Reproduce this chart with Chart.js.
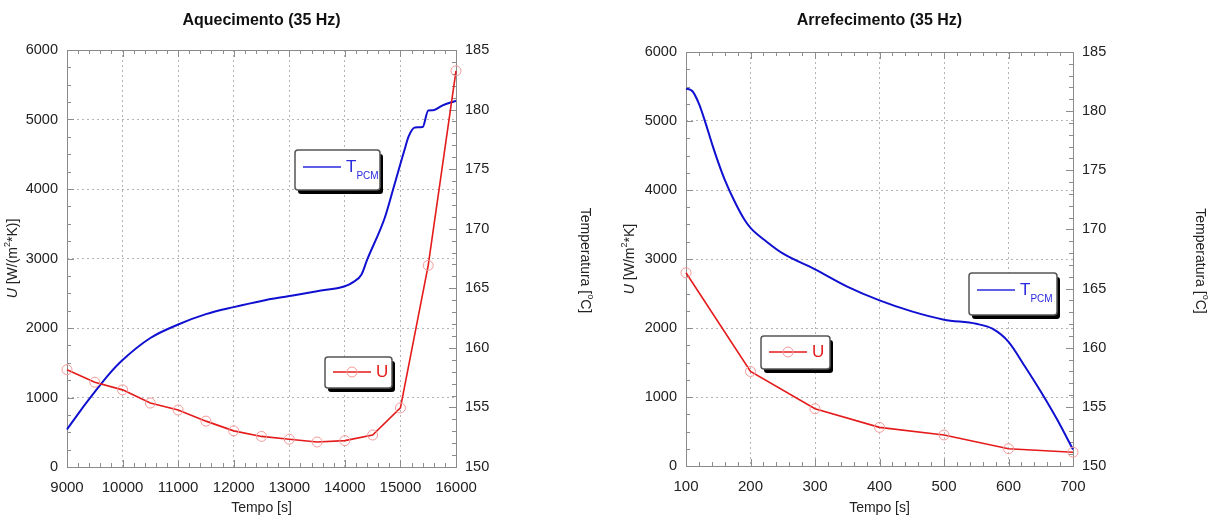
<!DOCTYPE html>
<html>
<head>
<meta charset="utf-8">
<script src="https://cdn.jsdelivr.net/npm/chart.js@4.4.1/dist/chart.umd.min.js"></script>
<style>
  body { margin: 0; background: #fff; }
  #wrap { position: relative; width: 1219px; height: 520px; }
  canvas { position: absolute; top: 0; }
</style>
</head>
<body>
<div id="wrap">
  <canvas id="heat" width="610" height="520" style="left:0"></canvas>
  <canvas id="cool" width="609" height="520" style="left:610px"></canvas>
</div>
<script>
// Aquecimento (heating) - U coefficient every 500 s
var heatTime = [9000, 9500, 10000, 10500, 11000, 11500, 12000, 12500, 13000, 13500, 14000, 14500, 15000, 15500, 16000];
var heatU = [1400, 1220, 1110, 920, 820, 660, 520, 440, 400, 360, 380, 460, 850, 2900, 5700];

// Aquecimento - PCM temperature [°C]
var heatTTime = [9000, 9250, 9500, 9750, 10000, 10500, 11000, 11500, 12000, 12500, 13000, 13500, 14000, 14150, 14300, 14400, 14720, 14870, 15070, 15150, 15260, 15400, 15500, 15590, 15750, 16000];
var heatT = [153.15, 154.78, 156.30, 157.76, 158.98, 160.83, 161.96, 162.83, 163.42, 163.94, 164.35, 164.76, 165.17, 165.52, 166.16, 167.38, 170.94, 173.33, 176.57, 177.77, 178.50, 178.53, 179.93, 179.95, 180.33, 180.74];

// Arrefecimento (cooling) - U coefficient every 100 s
var coolTime = [100, 200, 300, 400, 500, 600, 700];
var coolU = [2800, 1370, 830, 560, 450, 250, 200];

// Arrefecimento - PCM temperature [°C]
var coolTTime = [100, 110, 120, 130, 140, 150, 160, 175, 190, 200, 225, 250, 300, 350, 400, 450, 500, 550, 575, 600, 625, 650, 675, 700];
var coolT = [181.91, 181.68, 180.63, 179.05, 177.30, 175.67, 174.21, 172.40, 170.88, 170.13, 168.96, 167.97, 166.63, 165.17, 164.00, 163.07, 162.37, 162.02, 161.61, 160.50, 158.46, 156.30, 153.97, 151.40];

// axis ticks
var uTicks = [0, 1000, 2000, 3000, 4000, 5000, 6000];
var tTicks = [150, 155, 160, 165, 170, 175, 180, 185];

var FONT = "'Liberation Sans', Arial, sans-serif";
var RED = '#e51a1a';
var BLUE = '#1010d0';

function pts(xs, ys) {
  return xs.map(function (x, i) { return { x: x, y: ys[i] }; });
}

// draws a run of text pieces (with sub/superscripts) centered at 0,0
function drawRich(ctx, parts) {
  var total = 0;
  parts.forEach(function (p) { ctx.font = p.font; p.w = ctx.measureText(p.t).width; total += p.w; });
  var x = -total / 2;
  parts.forEach(function (p) {
    ctx.font = p.font;
    ctx.fillStyle = p.color || '#222';
    ctx.textAlign = 'left';
    ctx.textBaseline = 'middle';
    ctx.fillText(p.t, x, p.dy || 0);
    x += p.w;
  });
}

function tickMarks(ctx, scale, minor, major, side, ca) {
  ctx.beginPath();
  for (var v = scale.min; v <= scale.max + 1e-6; v += minor) {
    var isMajor = Math.abs(v / major - Math.round(v / major)) < 1e-6;
    var len = isMajor ? 7 : 4;
    var p = Math.round(scale.getPixelForValue(v)) + 0.5;
    if (side === 'x') {
      ctx.moveTo(p, ca.bottom); ctx.lineTo(p, ca.bottom - len);
      ctx.moveTo(p, ca.top); ctx.lineTo(p, ca.top + len);
    } else if (side === 'left') {
      ctx.moveTo(ca.left, p); ctx.lineTo(ca.left + len, p);
    } else {
      ctx.moveTo(ca.right, p); ctx.lineTo(ca.right - len, p);
    }
  }
  ctx.stroke();
}

function drawLegend(ctx, lg) {
  var x = lg.x, y = lg.y, w = lg.w, h = lg.h;
  ctx.save();
  ctx.fillStyle = '#000';
  ctx.beginPath();
  ctx.roundRect(x + 3, y + 4, w, h, 3);
  ctx.fill();
  ctx.fillStyle = '#fff';
  ctx.strokeStyle = '#555';
  ctx.lineWidth = 1.5;
  ctx.beginPath();
  ctx.roundRect(x, y, w, h, 3);
  ctx.fill();
  ctx.stroke();
  var my = y + lg.lineY;
  ctx.strokeStyle = lg.color;
  ctx.lineWidth = 1.6;
  ctx.beginPath();
  ctx.moveTo(x + 8, my); ctx.lineTo(x + 46, my);
  ctx.stroke();
  if (lg.marker) {
    ctx.strokeStyle = '#f29a9a';
    ctx.lineWidth = 1;
    ctx.beginPath();
    ctx.arc(x + 27, my, 5, 0, Math.PI * 2);
    ctx.stroke();
  }
  ctx.fillStyle = lg.color;
  ctx.textBaseline = 'middle';
  ctx.textAlign = 'left';
  ctx.font = '17px ' + FONT;
  ctx.fillText(lg.label, x + 51, my);
  if (lg.sub) {
    var tw = ctx.measureText(lg.label).width;
    ctx.font = '10px ' + FONT;
    ctx.fillText(lg.sub, x + 51 + tw, my + 9);
  }
  ctx.restore();
}

function decoPlugin(cfg) {
  return {
    id: 'deco',
    beforeDatasetsDraw: function (chart) {
      var ctx = chart.ctx, ca = chart.chartArea, s = chart.scales;
      ctx.save();
      ctx.strokeStyle = '#8c8c8c';
      ctx.lineWidth = 1;
      tickMarks(ctx, s.x, cfg.xStep / 5, cfg.xStep, 'x', ca);
      tickMarks(ctx, s.y, 250, 1000, 'left', ca);
      tickMarks(ctx, s.y1, 1, 5, 'right', ca);
      ctx.strokeStyle = '#8a8a8a';
      ctx.strokeRect(Math.round(ca.left) + 0.5, Math.round(ca.top) + 0.5,
        Math.round(ca.right - ca.left), Math.round(ca.bottom - ca.top));
      ctx.restore();
    },
    afterDraw: function (chart) {
      var ctx = chart.ctx, ca = chart.chartArea;
      var cx = (ca.left + ca.right) / 2;
      ctx.save();
      // title
      ctx.fillStyle = '#111';
      ctx.font = 'bold 16px ' + FONT;
      ctx.textAlign = 'center';
      ctx.textBaseline = 'middle';
      ctx.fillText(cfg.title, cx, 21);
      // x title
      ctx.font = '14px ' + FONT;
      ctx.fillStyle = '#222';
      ctx.fillText('Tempo [s]', cx, 508);
      // left y title
      ctx.save();
      ctx.translate(cfg.yTitleX, (ca.top + ca.bottom) / 2);
      ctx.rotate(-Math.PI / 2);
      drawRich(ctx, cfg.yTitle);
      ctx.restore();
      // right y title
      ctx.save();
      ctx.translate(cfg.y1TitleX, (ca.top + ca.bottom) / 2 + 2);
      ctx.rotate(Math.PI / 2);
      drawRich(ctx, [
        { t: 'Temperatura [', font: '14px ' + FONT },
        { t: 'o', font: '9px ' + FONT, dy: -5 },
        { t: 'C]', font: '14px ' + FONT }
      ]);
      ctx.restore();
      cfg.legends.forEach(function (lg) { drawLegend(ctx, lg); });
      ctx.restore();
    }
  };
}

function plain(v) { return String(v); }

function makeChart(id, cfg) {
  var xFont = { family: FONT, size: 15 };
  var yFont = { family: FONT, size: 14.5 };
  return new Chart(document.getElementById(id), {
    type: 'line',
    data: {
      datasets: [
        {
          label: 'U', yAxisID: 'y',
          data: pts(cfg.uTime, cfg.u),
          borderColor: RED, borderWidth: 1.6,
          pointRadius: 5, pointBorderColor: '#f29a9a', pointBackgroundColor: 'rgba(0,0,0,0)',
          pointBorderWidth: 1, tension: 0, clip: false
        },
        {
          label: 'TPCM', yAxisID: 'y1',
          data: pts(cfg.tTime, cfg.t),
          borderColor: BLUE, borderWidth: 2,
          pointRadius: 0, cubicInterpolationMode: 'monotone', clip: false
        }
      ]
    },
    options: {
      responsive: false,
      animation: false,
      layout: { padding: { top: cfg.top, left: 0, right: 0, bottom: 0 } },
      plugins: { legend: { display: false }, title: { display: false }, tooltip: { enabled: false } },
      scales: {
        x: {
          type: 'linear', min: cfg.xMin, max: cfg.xMax,
          afterFit: function (s) { s.height = cfg.bottomH; },
          afterBuildTicks: function (s) { s.ticks = cfg.xTicks.map(function (v) { return { value: v }; }); },
          ticks: { font: xFont, color: '#222', padding: 12, maxRotation: 0, callback: plain },
          grid: { color: '#b4b4b4', drawTicks: false, lineWidth: 1 },
          border: { display: false, dash: [2, 3] }
        },
        y: {
          position: 'left', min: 0, max: 6000,
          afterFit: function (s) { s.width = cfg.leftW; },
          afterBuildTicks: function (s) { s.ticks = uTicks.map(function (v) { return { value: v }; }); },
          ticks: { font: yFont, color: '#222', padding: 9, callback: plain },
          grid: { color: '#b4b4b4', drawTicks: false, lineWidth: 1 },
          border: { display: false, dash: [2, 3] }
        },
        y1: {
          position: 'right', min: 150, max: 185,
          afterFit: function (s) { s.width = cfg.rightW; },
          afterBuildTicks: function (s) { s.ticks = tTicks.map(function (v) { return { value: v }; }); },
          ticks: { font: yFont, color: '#222', padding: 9, callback: plain },
          grid: { drawOnChartArea: false, drawTicks: false },
          border: { display: false }
        }
      }
    },
    plugins: [decoPlugin(cfg)]
  });
}

makeChart('heat', {
  title: 'Aquecimento (35 Hz)',
  uTime: heatTime, u: heatU, tTime: heatTTime, t: heatT,
  xMin: 9000, xMax: 16000, xStep: 1000,
  xTicks: [9000, 10000, 11000, 12000, 13000, 14000, 15000, 16000],
  leftW: 67, rightW: 154, bottomH: 53, top: 50,
  yTitleX: 13, y1TitleX: 585,
  yTitle: [
    { t: 'U', font: 'italic 14px ' + FONT },
    { t: ' [W/(m', font: '14px ' + FONT },
    { t: '2', font: '9px ' + FONT, dy: -5 },
    { t: '*K)]', font: '14px ' + FONT }
  ],
  legends: [
    { x: 295, y: 150, w: 85, h: 40, lineY: 17, color: '#2a2ae0', label: 'T', sub: 'PCM' },
    { x: 325, y: 357, w: 67, h: 31, lineY: 15, color: RED, label: 'U', marker: true }
  ]
});

makeChart('cool', {
  title: 'Arrefecimento (35 Hz)',
  uTime: coolTime, u: coolU, tTime: coolTTime, t: coolT,
  xMin: 100, xMax: 700, xStep: 100,
  xTicks: [100, 200, 300, 400, 500, 600, 700],
  leftW: 76, rightW: 146, bottomH: 54, top: 52,
  yTitleX: 20, y1TitleX: 590,
  yTitle: [
    { t: 'U', font: 'italic 14px ' + FONT },
    { t: ' [W/m', font: '14px ' + FONT },
    { t: '2', font: '9px ' + FONT, dy: -5 },
    { t: '*K]', font: '14px ' + FONT }
  ],
  legends: [
    { x: 359, y: 273, w: 88, h: 42, lineY: 17, color: '#2a2ae0', label: 'T', sub: 'PCM' },
    { x: 151, y: 336, w: 69, h: 33, lineY: 16, color: RED, label: 'U', marker: true }
  ]
});
</script>
</body>
</html>
